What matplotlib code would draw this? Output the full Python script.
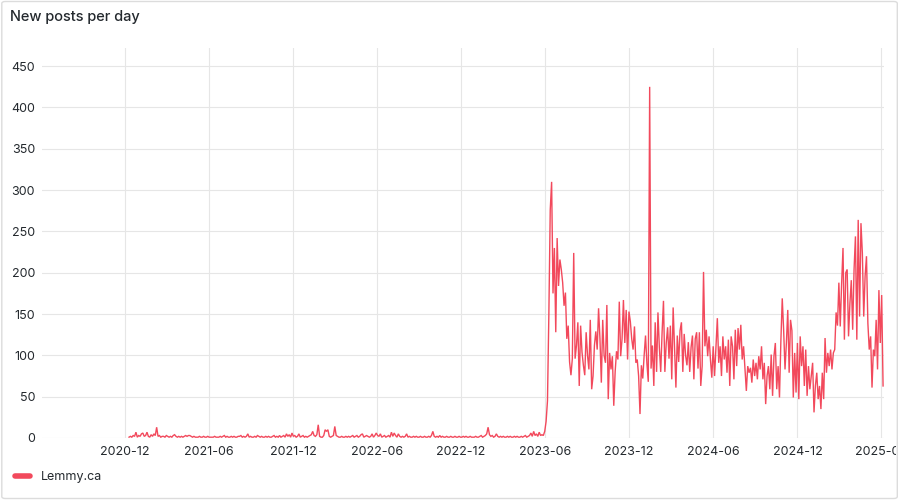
import matplotlib.pyplot as plt
import matplotlib.dates as mdates
from matplotlib.lines import Line2D
from matplotlib.patches import FancyBboxPatch, Rectangle
import pandas as pd

plt.rcParams['font.family'] = ['Inter', 'DejaVu Sans']

# posts per day, one value every 3 days starting 2020-12-10
first_day = '2020-12-10'
step = '3D'

# quiet period: 2020-12 .. 2023-05 (one row ~ one month)
quiet_posts = [
    1, 2, 1, 3, 2, 7, 1, 3, 2, 5,
    6, 2, 3, 7, 2, 1, 4, 2, 5, 3,
    13, 2, 3, 1, 2, 2, 1, 3, 2, 1,
    2, 1, 3, 4, 2, 1, 2, 1, 2, 1,
    2, 3, 2, 3, 3, 2, 1, 2, 1, 1,
    1, 2, 1, 1, 2, 1, 1, 2, 1, 1,
    1, 1, 2, 1, 1, 1, 2, 1, 2, 3,
    1, 2, 1, 1, 2, 1, 2, 1, 1, 2,
    2, 3, 1, 2, 1, 2, 5, 1, 2, 1,
    1, 2, 1, 3, 2, 1, 2, 1, 1, 2,
    1, 2, 1, 1, 2, 3, 1, 2, 1, 3,
    1, 2, 3, 1, 5, 2, 4, 1, 6, 2,
    3, 1, 2, 5, 1, 2, 3, 1, 2, 1,
    2, 3, 4, 8, 3, 2, 4, 16, 2, 1,
    1, 3, 10, 8, 10, 2, 1, 2, 3, 14,
    3, 2, 1, 1, 2, 1, 1, 2, 1, 2,
    1, 2, 3, 1, 2, 3, 1, 2, 4, 5,
    1, 2, 3, 2, 1, 2, 5, 1, 3, 6,
    3, 2, 5, 1, 2, 3, 1, 2, 3, 1,
    7, 2, 6, 3, 1, 5, 2, 1, 2, 1,
    2, 5, 1, 2, 1, 1, 2, 1, 2, 1,
    1, 2, 1, 1, 2, 1, 1, 2, 1, 3,
    8, 2, 1, 2, 1, 3, 1, 2, 1, 1,
    2, 1, 1, 2, 1, 1, 2, 1, 1, 2,
    1, 1, 2, 1, 2, 1, 1, 2, 1, 1,
    1, 2, 1, 1, 2, 3, 1, 2, 3, 5,
    13, 4, 2, 3, 1, 2, 5, 2, 1, 2,
    1, 2, 1, 1, 2, 1, 2, 1, 1, 2,
    1, 2, 1, 1, 2, 1, 2, 3, 1, 2,
    3, 6, 2, 8, 3, 5, 2, 7, 3, 4,
]

# active period: 2023-05-29 .. 2025-06-05
active_posts = [
    3, 8, 20, 45, 150, 276, 310, 175, 230, 128,
    242, 184, 216, 204, 188, 160, 176, 120, 136, 92,
    76, 96, 224, 96, 112, 140, 63, 136, 104, 88,
    76, 128, 100, 83, 143, 59, 75, 112, 129, 107,
    157, 120, 67, 143, 100, 91, 161, 47, 103, 83,
    99, 39, 80, 105, 95, 165, 99, 120, 167, 115,
    155, 95, 153, 141, 120, 107, 135, 91, 95, 75,
    29, 88, 72, 100, 124, 90, 68, 425, 84, 112,
    63, 140, 80, 152, 110, 80, 128, 166, 80, 115,
    134, 96, 136, 71, 158, 110, 61, 124, 92, 130,
    140, 80, 126, 100, 88, 116, 80, 110, 124, 71,
    120, 128, 84, 128, 63, 87, 201, 111, 131, 99,
    123, 95, 73, 111, 75, 109, 145, 91, 111, 75,
    123, 95, 111, 79, 119, 63, 123, 111, 71, 131,
    87, 133, 107, 137, 95, 111, 83, 57, 87, 79,
    85, 67, 95, 75, 91, 71, 99, 83, 111, 71,
    91, 41, 75, 87, 59, 101, 51, 99, 115, 59,
    87, 49, 117, 169, 131, 83, 115, 155, 79, 143,
    130, 49, 103, 55, 115, 47, 123, 87, 111, 63,
    107, 51, 87, 59, 75, 91, 31, 63, 79, 47,
    63, 35, 79, 47, 121, 79, 103, 87, 107, 83,
    103, 107, 152, 136, 188, 135, 187, 230, 119, 200,
    204, 123, 163, 191, 131, 204, 244, 119, 264, 147,
    260, 224, 147, 196, 220, 139, 107, 123, 61, 107,
    99, 143, 83, 179, 115, 173, 63,
]

series_name = 'Lemmy.ca'
y_ticks = list(range(0, 451, 50))
x_tick_dates = pd.date_range('2020-12-01', '2025-06-01', freq='6MS')

posts = quiet_posts + active_posts
dates = pd.date_range(first_day, periods=len(posts), freq=step)

red = '#f2495c'
text_col = '#24292e'

fig = plt.figure(figsize=(9, 5), dpi=100, facecolor='white')
ax = fig.add_axes([0.0467, 0.124, 0.9355, 0.78])

ax.plot(dates, posts, color=red, lw=1.0, solid_joinstyle='miter')

ax.set_xlim(pd.Timestamp('2020-06-04'), pd.Timestamp('2025-06-07'))
ax.set_ylim(0, 472)
ax.set_yticks(y_ticks)
ax.set_xticks(x_tick_dates)
ax.xaxis.set_major_formatter(mdates.DateFormatter('%Y-%m'))

for s in ax.spines.values():
    s.set_visible(False)
ax.grid(True, color='#e6e6e6', lw=0.8)
ax.set_axisbelow(True)
ax.tick_params(length=0, labelsize=9, colors=text_col)
ax.tick_params(axis='y', pad=5)
ax.tick_params(axis='x', pad=6)

fig.text(0.011, 0.966, 'New posts per day', fontsize=10.5, color=text_col,
         va='center', ha='left', fontweight='medium')

handle = Line2D([0], [0], color=red, lw=4, solid_capstyle='round')
fig.legend(handles=[handle], labels=[series_name], loc='center left',
           bbox_to_anchor=(0.004, 0.046), frameon=False, handlelength=1.2,
           handletextpad=0.9, fontsize=9, labelcolor=text_col)

# panel edge hides the overflowing last date label, like the dashboard does
fig.patches.append(Rectangle((0.996, 0.0), 0.004, 1.0, transform=fig.transFigure,
                             fc='white', ec='none', zorder=10))
fig.patches.append(FancyBboxPatch((0.002, 0.003), 0.995, 0.994,
                                  boxstyle='round,pad=0,rounding_size=0.004',
                                  transform=fig.transFigure, fc='none',
                                  ec='#dcdcdc', lw=1, zorder=11))

fig.savefig('out.png', dpi=100, facecolor='white')
